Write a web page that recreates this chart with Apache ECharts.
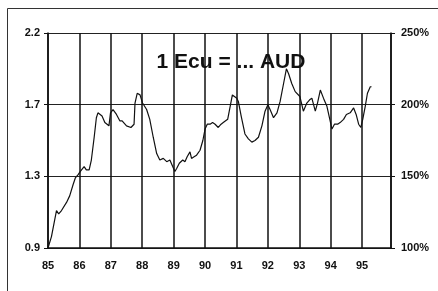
<!DOCTYPE html>
<html>
<head>
<meta charset="utf-8">
<script src="https://cdn.jsdelivr.net/npm/echarts@6/dist/echarts.min.js"></script>
<style>
  html, body { margin: 0; padding: 0; background: #fff; }
  #chart { width: 438px; height: 291px; }
</style>
</head>
<body>
<div id="chart"></div>
<script>
// time (decimal years, 85 = 1985) and exchange rate 1 Ecu in AUD
const years = [
  85.00, 85.11, 85.21, 85.27, 85.34, 85.43, 85.59, 85.69, 85.80, 85.87, 85.96,
  86.03, 86.15, 86.22, 86.31, 86.38, 86.47, 86.54, 86.59, 86.72, 86.81, 86.94, 86.99,
  87.07, 87.18, 87.29, 87.36, 87.50, 87.64, 87.74, 87.77, 87.84, 87.93,
  88.01, 88.14, 88.24, 88.35, 88.46, 88.56, 88.67, 88.78, 88.88, 88.97,
  89.04, 89.10, 89.18, 89.29, 89.36, 89.43, 89.52, 89.57, 89.65, 89.73, 89.84, 89.93,
  90.00, 90.07, 90.16, 90.24, 90.32, 90.42, 90.51, 90.58, 90.64, 90.72, 90.80, 90.87, 90.93,
  91.01, 91.06, 91.15, 91.27, 91.38, 91.49, 91.59, 91.70, 91.81, 91.91,
  92.00, 92.07, 92.18, 92.29, 92.39, 92.50, 92.59, 92.66, 92.76, 92.87, 92.91,
  93.02, 93.13, 93.24, 93.33, 93.40, 93.51, 93.58, 93.67, 93.77, 93.88, 93.96,
  94.04, 94.12, 94.22, 94.30, 94.41, 94.50, 94.62, 94.73, 94.81, 94.89, 94.96,
  95.02, 95.10, 95.17, 95.26, 95.30
];
const audValues = [
  0.88, 0.95, 1.05, 1.11, 1.09, 1.11, 1.16, 1.20, 1.27, 1.31, 1.33,
  1.35, 1.38, 1.36, 1.36, 1.42, 1.56, 1.68, 1.71, 1.69, 1.65, 1.63, 1.71,
  1.73, 1.70, 1.66, 1.66, 1.63, 1.62, 1.64, 1.77, 1.83, 1.82,
  1.77, 1.73, 1.67, 1.56, 1.46, 1.42, 1.43, 1.41, 1.42, 1.38,
  1.35, 1.37, 1.40, 1.42, 1.41, 1.44, 1.47, 1.43, 1.44, 1.45, 1.48, 1.54,
  1.61, 1.64, 1.64, 1.65, 1.64, 1.62, 1.64, 1.65, 1.64, 1.67, 1.75, 1.82, 1.83,
  1.80, 1.78, 1.69, 1.58, 1.55, 1.53, 1.54, 1.56, 1.63, 1.72,
  1.76, 1.73, 1.68, 1.71, 1.78, 1.89, 1.98, 1.95, 1.89, 1.84, 1.85,
  1.81, 1.72, 1.77, 1.79, 1.80, 1.72, 1.77, 1.85, 1.80, 1.75, 1.68,
  1.61, 1.64, 1.64, 1.65, 1.67, 1.70, 1.71, 1.74, 1.70, 1.64, 1.62,
  1.67, 1.75, 1.83, 1.87, 1.87
];
// left tick labels as printed (ticks sit at 0.88, 1.32, 1.76, 2.2)
const leftLabels = ['0.9', '1.3', '1.7', '2.2'];
const titleText = '1 Ecu = ... AUD';

const font = 'Arial, "Liberation Sans", sans-serif';
const chart = echarts.init(document.getElementById('chart'));

const option = {
  animation: false,
  backgroundColor: '#fff',
  title: {
    text: titleText,
    left: 226,
    top: 47,
    textAlign: 'center',
    textStyle: { fontFamily: font, fontSize: 21, fontWeight: 'bold', color: '#111' }
  },
  graphic: [
    {
      type: 'rect',
      shape: { x: 7.5, y: 8.5, width: 440, height: 300 },
      style: { fill: 'none', stroke: '#333', lineWidth: 1 },
      silent: true
    }
  ],
  grid: { left: 48, right: 47, top: 33, bottom: 43 },
  xAxis: {
    type: 'value',
    min: 85,
    max: 95.92,
    interval: 1,
    axisLine: { show: true, lineStyle: { color: '#111', width: 1.5 } },
    axisTick: { show: false },
    splitLine: { show: true, lineStyle: { color: '#111', width: 1.5 } },
    axisLabel: {
      margin: 12,
      showMaxLabel: false,
      fontFamily: font,
      fontSize: 11,
      fontWeight: 'bold',
      color: '#111',
      formatter: v => (Number.isInteger(v) ? String(v) : '')
    }
  },
  yAxis: [
    {
      type: 'value',
      min: 0.88,
      max: 2.2,
      interval: 0.44,
      axisLine: { show: true, lineStyle: { color: '#111', width: 1.5 } },
      axisTick: { show: true, length: 4, lineStyle: { color: '#111' } },
      splitLine: { show: true, lineStyle: { color: '#222', width: 1.2 } },
      axisLabel: {
        margin: 8,
        fontFamily: font,
        fontSize: 11,
        fontWeight: 'bold',
        color: '#111',
        formatter: v => leftLabels[Math.round((v - 0.88) / 0.44)]
      }
    },
    {
      type: 'value',
      min: 100,
      max: 250,
      interval: 50,
      position: 'right',
      axisLine: { show: true, lineStyle: { color: '#111', width: 1.5 } },
      axisTick: { show: true, length: 4, lineStyle: { color: '#111' } },
      splitLine: { show: false },
      axisLabel: {
        margin: 10,
        fontFamily: font,
        fontSize: 11,
        fontWeight: 'bold',
        color: '#111',
        formatter: '{value}%'
      }
    }
  ],
  series: [
    {
      type: 'line',
      yAxisIndex: 0,
      data: years.map((y, i) => [y, audValues[i]]),
      showSymbol: false,
      lineStyle: { color: '#111', width: 1.2 }
    }
  ]
};

chart.setOption(option);
</script>
</body>
</html>
